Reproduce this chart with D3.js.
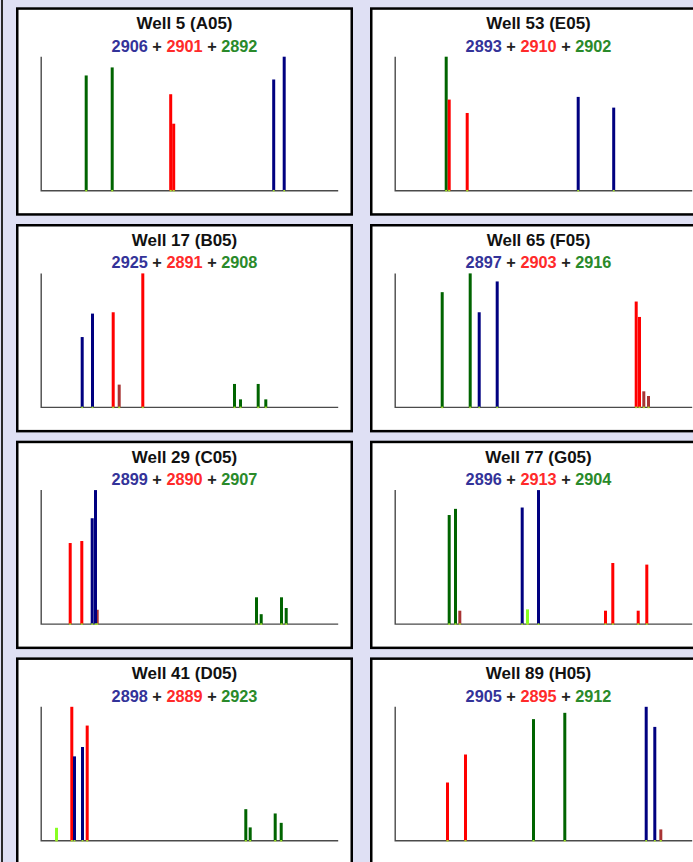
<!DOCTYPE html>
<html>
<head>
<meta charset="utf-8">
<script src="https://cdn.jsdelivr.net/npm/d3@7"></script>
<style>
  html, body { margin: 0; padding: 0; background: #dfe0f4; overflow: hidden; }
  svg { display: block; }
  text { font-family: "Liberation Sans", Arial, sans-serif; font-weight: bold; }
</style>
</head>
<body>
<div id="plate"></div>
<script>
// Wells in grid order (row by row, two columns)
var wellTitles = ["Well 5 (A05)", "Well 53 (E05)", "Well 17 (B05)", "Well 65 (F05)",
                  "Well 29 (C05)", "Well 77 (G05)", "Well 41 (D05)", "Well 89 (H05)"];

// Called allele sizes: blue + red + green
var alleleSizes = [
  [2906, 2901, 2892], [2893, 2910, 2902],
  [2925, 2891, 2908], [2897, 2903, 2916],
  [2899, 2890, 2907], [2896, 2913, 2904],
  [2898, 2889, 2923], [2905, 2895, 2912]
];

// Peaks per well: [position, relative height, dye]
var peaksA05 = [[45, 86, "g"], [71, 92, "g"], [129.5, 72, "r"], [132.5, 50, "r"], [232.5, 83, "b"], [243, 100, "b"]];
var peaksE05 = [[51, 100, "g"], [54, 68, "r"], [72, 58, "r"], [183, 70, "b"], [218.5, 62, "b"]];
var peaksB05 = [[41, 52.5, "b"], [51.3, 70, "b"], [72, 71, "r"], [78, 17, "k"], [101.6, 100, "r"],
                [193.3, 17.5, "g"], [199.3, 6, "g"], [217, 17.5, "g"], [224.6, 6, "g"]];
var peaksF05 = [[47, 86, "g"], [75, 100, "g"], [84, 71, "b"], [102, 94, "b"],
                [241, 79, "r"], [244.3, 67.5, "r"], [248.6, 12, "k"], [253.3, 8.5, "k"]];
var peaksC05 = [[29, 60.5, "r"], [40.6, 62, "r"], [56, 10.7, "k"], [51, 79, "b"], [54.3, 100, "b"],
                [215.3, 20, "g"], [220, 7.4, "g"], [240.3, 20, "g"], [245, 12, "g"]];
var peaksG05 = [[54, 81.4, "g"], [60.3, 86, "g"], [64.6, 10, "k"], [127, 87, "b"], [132.3, 11, "l"],
                [143.3, 100, "b"], [210.3, 10, "r"], [217.6, 45.6, "r"], [243, 10, "r"], [251.6, 44.4, "r"]];
var peaksD05 = [[15.3, 9.7, "l"], [30.6, 100, "r"], [33.3, 63, "b"], [41.3, 70, "b"], [46, 86, "r"],
                [204.6, 23.6, "g"], [209, 10, "g"], [234, 20.4, "g"], [240, 13.4, "g"]];
var peaksH05 = [[52.3, 43.5, "r"], [70.3, 64.4, "r"], [138.3, 90.8, "g"], [169.6, 95.5, "g"],
                [251, 100, "b"], [259.6, 85, "b"], [265.6, 8.5, "k"]];

var wellPeaks = [peaksA05, peaksE05, peaksB05, peaksF05, peaksC05, peaksG05, peaksD05, peaksH05];

var dyeColours = { b: "#000080", r: "#ff0000", g: "#006400", k: "#a83434", l: "#88ff22" };
var labelColours = ["#333399", "#ff2a2a", "#2a8a2a"];

///////////////////////////////////////////////////////////////////////////
//////////////////////////////// Layout ///////////////////////////////////
///////////////////////////////////////////////////////////////////////////

var svgW = 693, svgH = 862;
var panelW = 337, panelH = 208.4,
  colStep = 354, rowStep = 216.7,
  originX = 16, originY = 7.3;
var axisLeft = 25.2, axisRight = 322.2, axisTop = 49.4, axisBottom = 183.4;

var svg = d3.select("#plate")
  .append("svg")
  .attr("width", svgW)
  .attr("height", svgH);

svg.append("rect")
  .attr("width", svgW)
  .attr("height", svgH)
  .attr("fill", "#dfe0f4");

// dark edge of the container on the left
svg.append("rect")
  .attr("x", 1)
  .attr("y", 0)
  .attr("width", 2)
  .attr("height", svgH)
  .attr("fill", "#2a2a2a");

// positions were read in axis pixels, so the scale runs 1:1
var xScale = d3.scaleLinear().domain([0, 297]).range([axisLeft, axisRight]);
var yScale = d3.scaleLinear().domain([0, 100]).range([axisBottom, axisTop]);

wellTitles.forEach(function(title, i) {
  var col = i % 2, row = Math.floor(i / 2);
  var g = svg.append("g")
    .attr("transform", "translate(" + (originX + col * colStep) + "," + (originY + row * rowStep) + ")");

  g.append("rect")
    .attr("x", 1.25)
    .attr("y", 1.25)
    .attr("width", panelW - 2.5)
    .attr("height", panelH - 2.5)
    .attr("fill", "white")
    .attr("stroke", "black")
    .attr("stroke-width", 2.5);

  g.append("text")
    .attr("x", panelW / 2)
    .attr("y", 22)
    .attr("text-anchor", "middle")
    .attr("font-size", 17)
    .attr("fill", "#111")
    .text(title);

  var sub = g.append("text")
    .attr("x", panelW / 2)
    .attr("y", 44.4)
    .attr("text-anchor", "middle")
    .attr("font-size", 16.3);
  alleleSizes[i].forEach(function(v, j) {
    if (j > 0) sub.append("tspan").attr("fill", "#222").text(" + ");
    sub.append("tspan").attr("fill", labelColours[j]).text(v);
  });

  // axes
  g.append("path")
    .attr("d", "M" + axisLeft + "," + axisTop + "V" + axisBottom + "H" + axisRight)
    .attr("fill", "none")
    .attr("stroke", "#4a4a4a")
    .attr("stroke-width", 1.4);

  // peaks
  g.selectAll("rect.peak")
    .data(wellPeaks[i])
    .enter()
    .append("rect")
    .attr("class", "peak")
    .attr("x", function(d) { return xScale(d[0]) - 1.5; })
    .attr("y", function(d) { return yScale(d[1]); })
    .attr("width", 3)
    .attr("height", function(d) { return yScale(0) - yScale(d[1]); })
    .attr("fill", function(d) { return dyeColours[d[2]]; });

  // small markers at the base of each peak
  g.selectAll("rect.tick")
    .data(wellPeaks[i])
    .enter()
    .append("rect")
    .attr("class", "tick")
    .attr("x", function(d) { return xScale(d[0]) - 1; })
    .attr("y", axisBottom - 0.8)
    .attr("width", 2)
    .attr("height", 1.6)
    .attr("fill", "#a6e22e");
});
</script>
</body>
</html>
